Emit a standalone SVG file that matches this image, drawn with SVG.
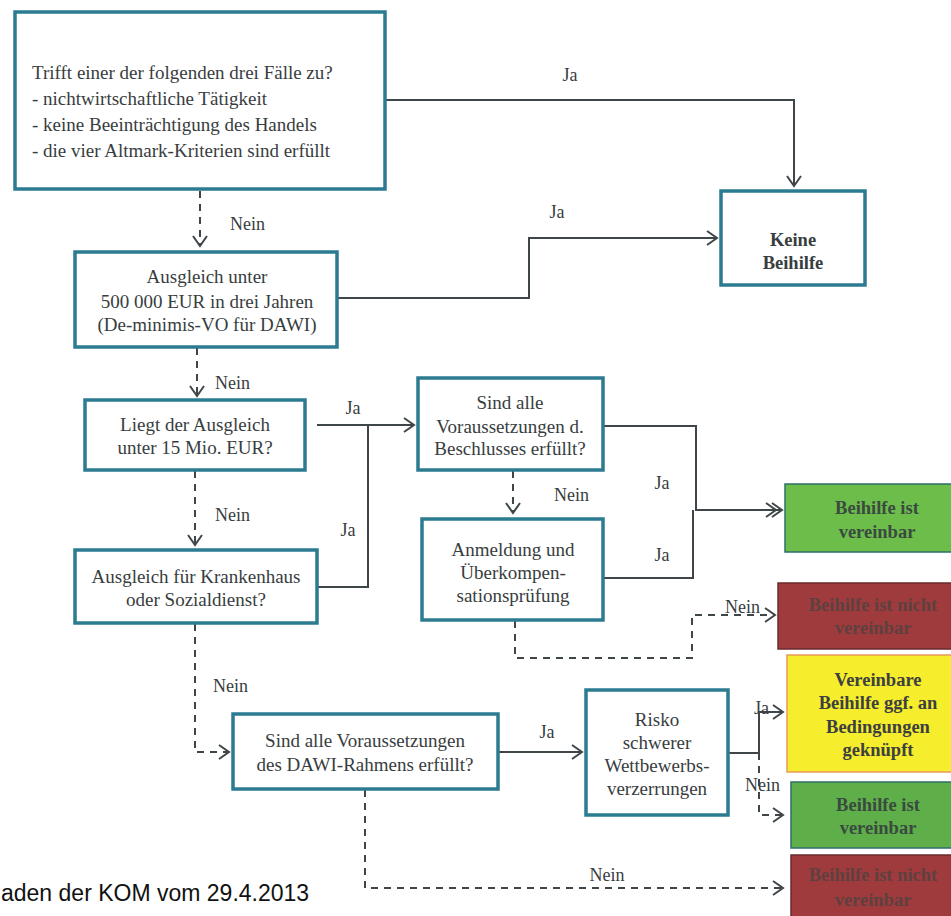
<svg xmlns="http://www.w3.org/2000/svg" width="951" height="916" viewBox="0 0 951 916">
<style>
.box{fill:#ffffff;stroke:#2b7b91;stroke-width:3.5}
.t{font-family:"Liberation Serif","Times New Roman",serif;font-size:19px;fill:#383d40}
.c{text-anchor:middle}
.b{font-weight:bold;font-size:18.5px}
.lbl{font-family:"Liberation Serif","Times New Roman",serif;font-size:18px;fill:#383d40}
.ln{fill:none;stroke:#3f464a;stroke-width:2}
.ds{fill:none;stroke:#3f464a;stroke-width:2;stroke-dasharray:7 6}
.green{fill:#6dbd4b;stroke:#2f6f6a;stroke-width:1.5}
.green2{fill:#5eaf49;stroke:#2f6f6a;stroke-width:1.5}
.red{fill:#a03b3d;stroke:#6a2b2c;stroke-width:1.5}
.yellow{fill:#f6ee2c;stroke:#e89a5c;stroke-width:1.5}
.gt{fill:#3a4a40}
.rt{fill:#5e4040}
.yt{fill:#3d4040}
</style>
<defs>
<marker id="ah" markerUnits="userSpaceOnUse" markerWidth="14" markerHeight="16" refX="11" refY="7" orient="auto" overflow="visible">
<path d="M1,0 L11,7 L1,14" fill="none" stroke="#3f464a" stroke-width="2" stroke-dasharray="none"/>
</marker>
<marker id="ah2" markerUnits="userSpaceOnUse" markerWidth="20" markerHeight="16" refX="11" refY="7" orient="auto" overflow="visible">
<path d="M1,0 L11,7 L1,14 M-5,0 L5,7 L-5,14" fill="none" stroke="#3f464a" stroke-width="2" stroke-dasharray="none"/>
</marker>
</defs>

<g id="connectors">
<path class="ln" d="M385,100 H794 V186" marker-end="url(#ah)"/>
<text class="lbl" x="570" y="81" text-anchor="middle">Ja</text>
<path class="ds" d="M200,191 V246" marker-end="url(#ah)"/>
<text class="lbl" x="230" y="230">Nein</text>
<path class="ln" d="M337,298 H529 V238 H717" marker-end="url(#ah)"/>
<text class="lbl" x="557" y="218" text-anchor="middle">Ja</text>
<path class="ds" d="M197,348 V396" marker-end="url(#ah)"/>
<text class="lbl" x="215" y="389">Nein</text>
<path class="ln" d="M317,425 H414" marker-end="url(#ah)"/>
<text class="lbl" x="353" y="414" text-anchor="middle">Ja</text>
<path class="ln" d="M317,587 H368 V425"/>
<text class="lbl" x="348" y="536" text-anchor="middle">Ja</text>
<path class="ds" d="M195,471 V545" marker-end="url(#ah)"/>
<text class="lbl" x="215" y="521">Nein</text>
<path class="ln" d="M603,426 H696 V510 H782" marker-end="url(#ah2)"/>
<path class="ln" d="M603,578 H693 V510"/>
<text class="lbl" x="662" y="489" text-anchor="middle">Ja</text>
<text class="lbl" x="662" y="561" text-anchor="middle">Ja</text>
<path class="ds" d="M513,471 V513" marker-end="url(#ah)"/>
<text class="lbl" x="554" y="501">Nein</text>
<path class="ds" d="M515,621 V658 H692 V615 H775" marker-end="url(#ah)"/>
<text class="lbl" x="725" y="613">Nein</text>
<path class="ds" d="M195,624 V752 H229" marker-end="url(#ah)"/>
<text class="lbl" x="213" y="692">Nein</text>
<path class="ln" d="M498,752 H582" marker-end="url(#ah)"/>
<text class="lbl" x="547" y="738" text-anchor="middle">Ja</text>
<path class="ln" d="M728,753 H759 V712 H783" marker-end="url(#ah)"/>
<text class="lbl" x="754" y="714">Ja</text>
<path class="ds" d="M759,753 V815 H783" marker-end="url(#ah)"/>
<text class="lbl" x="745" y="791">Nein</text>
<path class="ds" d="M365,790 V888 H783" marker-end="url(#ah)"/>
<text class="lbl" x="607" y="881" text-anchor="middle">Nein</text>
</g>

<g id="n1">
<rect class="box" x="15" y="12" width="370" height="177"/>
<text class="t" x="32" y="79">Trifft einer der folgenden drei Fälle zu?</text>
<text class="t" x="32" y="105">- nichtwirtschaftliche Tätigkeit</text>
<text class="t" x="32" y="131">- keine Beeinträchtigung des Handels</text>
<text class="t" x="32" y="157">- die vier Altmark-Kriterien sind erfüllt</text>
</g>

<g id="n_keine">
<rect class="box" x="721" y="191" width="144" height="94"/>
<text class="t c b" x="793" y="246">Keine</text>
<text class="t c b" x="793" y="269">Beihilfe</text>
</g>

<g id="n2">
<rect class="box" x="75" y="252" width="262" height="95"/>
<text class="t c" x="207" y="283">Ausgleich unter</text>
<text class="t c" x="207" y="308">500 000 EUR in drei Jahren</text>
<text class="t c" x="207" y="331">(De-minimis-VO für DAWI)</text>
</g>

<g id="n3">
<rect class="box" x="85" y="400" width="220" height="70"/>
<text class="t c" x="195" y="431">Liegt der Ausgleich</text>
<text class="t c" x="195" y="454">unter 15 Mio. EUR?</text>
</g>

<g id="n4">
<rect class="box" x="418" y="378" width="185" height="92"/>
<text class="t c" x="510" y="409">Sind alle</text>
<text class="t c" x="510" y="433">Voraussetzungen d.</text>
<text class="t c" x="510" y="455">Beschlusses erfüllt?</text>
</g>

<g id="n5">
<rect class="box" x="75" y="550" width="242" height="73"/>
<text class="t c" x="196" y="583">Ausgleich für Krankenhaus</text>
<text class="t c" x="196" y="606">oder Sozialdienst?</text>
</g>

<g id="n6">
<rect class="box" x="422" y="519" width="181" height="101"/>
<text class="t c" x="513" y="556">Anmeldung und</text>
<text class="t c" x="513" y="579">Überkompen-</text>
<text class="t c" x="513" y="602">sationsprüfung</text>
</g>

<g id="n7">
<rect class="box" x="233" y="714" width="265" height="75"/>
<text class="t c" x="365" y="747">Sind alle Voraussetzungen</text>
<text class="t c" x="365" y="771">des DAWI-Rahmens erfüllt?</text>
</g>

<g id="n8">
<rect class="box" x="586" y="690" width="142" height="125"/>
<text class="t c" x="657" y="726">Risko</text>
<text class="t c" x="657" y="749">schwerer</text>
<text class="t c" x="657" y="772">Wettbewerbs-</text>
<text class="t c" x="657" y="795">verzerrungen</text>
</g>

<g id="r_green1">
<rect class="green" x="785" y="484" width="175" height="68"/>
<text class="t c b gt" x="877" y="514">Beihilfe ist</text>
<text class="t c b gt" x="877" y="538">vereinbar</text>
</g>

<g id="r_red1">
<rect class="red" x="778" y="583" width="182" height="66"/>
<text class="t c b rt" x="873" y="611">Beihilfe ist nicht</text>
<text class="t c b rt" x="873" y="634">vereinbar</text>
</g>

<g id="r_yellow">
<rect class="yellow" x="787" y="655" width="173" height="117"/>
<text class="t c b yt" x="878" y="686">Vereinbare</text>
<text class="t c b yt" x="878" y="709">Beihilfe ggf. an</text>
<text class="t c b yt" x="878" y="733">Bedingungen</text>
<text class="t c b yt" x="878" y="756">geknüpft</text>
</g>

<g id="r_green2">
<rect class="green2" x="791" y="782" width="169" height="66"/>
<text class="t c b gt" x="878" y="811">Beihilfe ist</text>
<text class="t c b gt" x="878" y="834">vereinbar</text>
</g>

<g id="r_red2">
<rect class="red" x="791" y="855" width="169" height="70"/>
<text class="t c b rt" x="873" y="881">Beihilfe ist nicht</text>
<text class="t c b rt" x="873" y="906">vereinbar</text>
</g>

<text x="1" y="901" font-family="'Liberation Sans', Arial, sans-serif" font-size="23" fill="#111111">aden der KOM vom 29.4.2013</text>
</svg>
